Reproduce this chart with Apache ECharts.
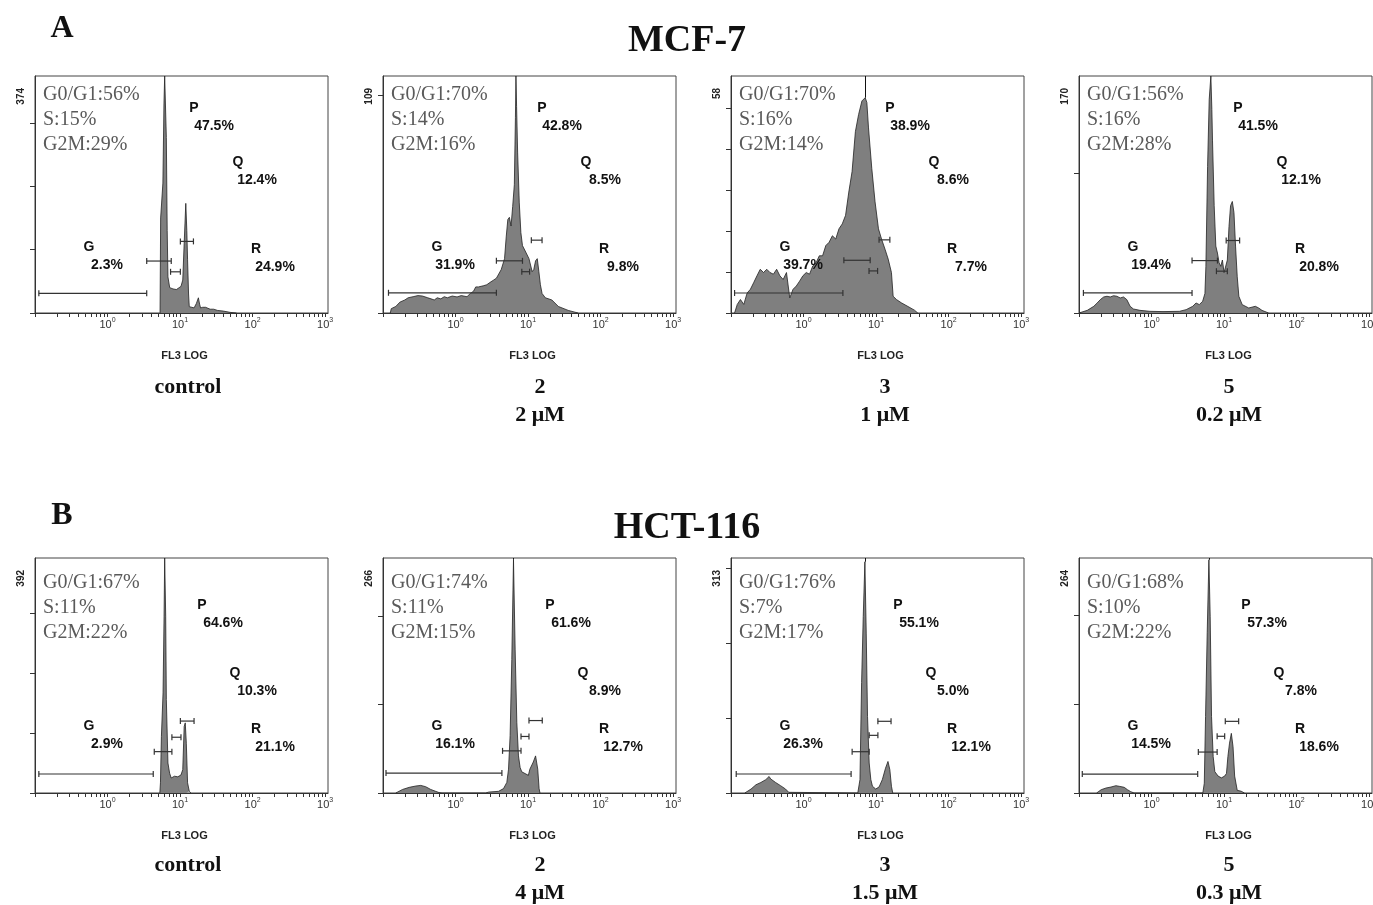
<!DOCTYPE html>
<html lang="en" style="height: 100%">
<head>
    <meta charset="utf-8">
</head>
<body style="height: 100%; margin: 0; background: #fff">
<div id="container" style="width: 1373px; height: 905px"></div>
<script src="https://cdn.jsdelivr.net/npm/echarts@6/dist/echarts.min.js"></script>
<script>
// histograms: [FL3 channel value, cell count]
var mcfControl = [[5.3,0],[5.4,150],[5.8,205],[6.0,330],[6.14,374],[6.3,374],[6.47,277],[6.65,130],[6.81,57],[7.2,40],[7.56,37],[8.0,38],[8.38,39],[8.9,37],[9.3,37],[10.3,42],[10.9,52],[11.4,110],[12.0,173],[12.4,130],[12.7,84],[13.1,30],[13.4,10],[14.5,9],[15.6,8],[16.8,15],[17.9,24],[18.6,14],[19.2,8],[20.5,9],[21.3,12],[22.5,9],[23.6,10],[26,6],[29.1,6],[33,4],[39.7,3],[48.9,1],[60,0]];
var mcf2 = [[0.126,0],[0.13,2],[0.15,3],[0.171,5],[0.2,6],[0.222,7],[0.26,7.5],[0.303,8],[0.35,7.8],[0.414,7],[0.46,6.5],[0.509,6],[0.56,7],[0.627,6.5],[0.7,7.5],[0.771,7],[0.9,7.8],[1.05,7.4],[1.2,8],[1.44,7.5],[1.6,9],[1.77,10],[1.9,12],[2.07,12],[2.41,12.5],[2.7,13],[2.97,14],[3.3,15],[3.66,16],[4.27,20],[4.74,25],[5.0,35],[5.26,43],[5.53,44],[5.83,40],[6.14,49],[6.47,59],[6.7,90],[6.81,109],[6.95,95],[7.18,74],[7.56,51],[7.96,37],[8.38,31],[9.3,28],[10.3,25],[11.4,19],[12.0,20],[12.7,24],[13.4,25],[14.1,19],[14.8,13],[15.6,9],[17.3,7],[21.3,6],[26.2,3],[35.8,1.2],[48.9,0]];
var mcf3 = [[0.112,0],[0.116,0.4],[0.122,2.1],[0.135,3.3],[0.15,2.1],[0.167,4.9],[0.185,5.8],[0.205,7.4],[0.228,9.1],[0.253,10.7],[0.281,9.9],[0.311,10.7],[0.345,9.9],[0.384,9.5],[0.426,10.7],[0.472,9.1],[0.524,8.2],[0.582,9.9],[0.646,3.7],[0.717,5.8],[0.795,6.6],[0.883,7.8],[0.979,9.1],[1.09,9.9],[1.21,9.5],[1.34,11.5],[1.49,12.3],[1.65,14],[1.83,14],[2.03,16.5],[2.25,17.3],[2.5,18.9],[2.78,18.1],[3.08,20.6],[3.42,21.8],[3.8,23.9],[4.21,29.6],[4.67,34.6],[5.19,44.4],[5.75,48.6],[6.39,51.9],[7.09,52.7],[7.47,51.5],[7.87,45.3],[8.73,35.4],[9.69,27.2],[10.8,20.6],[11.9,18.1],[13.3,15.6],[14.7,13.2],[16.3,9.9],[17.2,4.1],[19.1,3.3],[22.3,2.5],[27.5,1.6],[33.8,0.7],[37.6,0]];
var mcf5 = [[0.1,0],[0.105,0.5],[0.13,1.9],[0.16,4.8],[0.178,7.2],[0.197,9.6],[0.219,11.5],[0.243,12],[0.27,11.5],[0.3,12.4],[0.333,12],[0.37,10.8],[0.411,11.5],[0.456,9.6],[0.507,4.8],[0.562,2.9],[0.693,1.9],[0.949,1.2],[1.44,1],[2.43,1.2],[3.0,2.4],[3.7,4.8],[4.11,7.2],[4.56,6],[5.07,8.4],[5.45,14],[5.62,33.5],[5.93,105],[6.24,153],[6.58,170],[6.79,146],[6.93,124],[7.31,77],[7.7,48],[8.11,43],[8.55,36],[9.01,33.5],[9.49,38],[10.0,29],[10.5,29],[11.1,38],[11.7,62],[12.3,77],[13.0,80],[13.7,72],[14.4,48],[15.2,26],[16.0,12],[17.8,6],[21.9,3.6],[27.0,4.8],[30.0,3.6],[33.3,1.9],[41.1,0]];
var hctControl = [[5.26,0],[5.37,17],[5.53,94],[5.83,167],[6.02,295],[6.14,392],[6.34,295],[6.47,156],[6.81,50],[7.18,33],[7.56,25],[8.38,28],[9.3,27],[10.3,30],[10.9,39],[11.4,111],[11.8,117],[12.2,83],[12.7,17],[13.4,3],[14.1,0]];
var hct2 = [[0.15,0],[0.159,1],[0.186,4],[0.23,6.4],[0.283,7.9],[0.332,8.6],[0.388,7.1],[0.455,4],[0.532,1.9],[0.591,0.5],[0.65,0],[2.6,0],[2.86,1],[3.92,1.9],[4.59,5],[5.1,12],[5.38,27],[5.66,65],[5.97,151],[6.3,264],[6.64,162],[7.0,80],[7.38,42],[7.77,29],[8.19,24],[8.63,26],[9.1,22],[9.59,24],[10.1,20],[10.6,27],[11.8,35],[12.7,42],[13.6,27],[14.2,5],[14.6,0]];
var hct3 = [[0.155,0],[0.162,0.9],[0.189,5.3],[0.221,11],[0.258,14],[0.302,17.8],[0.335,22],[0.353,18.7],[0.412,14],[0.482,9.8],[0.564,5.3],[0.626,0.9],[0.659,0],[5.6,0],[5.75,0.9],[6.0,17.8],[6.32,147],[6.66,235],[7.02,308],[7.32,213],[7.63,102],[8.04,40],[8.47,18],[8.92,9],[9.89,5.3],[11.0,8],[12.2,17.8],[13.5,33],[14.6,42],[15.5,31],[16.3,9],[17.0,0]];
var hct5 = [[0.175,0],[0.182,0.7],[0.202,3.7],[0.236,5.6],[0.276,6.7],[0.323,8.2],[0.359,7.5],[0.42,6.4],[0.466,3.7],[0.517,1.5],[0.574,0],[5.1,0],[5.17,0.7],[5.34,11],[5.56,86],[5.86,180],[6.18,262],[6.44,198],[6.72,86],[7.08,41],[7.46,24],[8.28,19],[9.2,17],[10.2,19],[10.8,22],[11.3,41],[11.9,56],[12.6,67],[13.3,52],[14.0,19],[15.2,3],[17.2,2],[19.1,0]];

// gate markers G, P, Q, R: [from, to, level]
var gatesMcfControl = [[0.113,3.47,31],[3.47,7.56,82],[7.4,10.1,65],[10.1,15.3,113]];
var gatesMcf2 = [[0.119,3.66,9.3],[3.66,8.38,24],[8.2,10.5,19],[11.1,15.6,33.5]];
var gatesMcf3 = [[0.112,3.49,4.9],[3.6,8.3,12.9],[8.0,10.5,10.3],[11.0,15.5,17.9]];
var gatesMcf5 = [[0.115,3.62,14.4],[3.62,8.11,37.6],[7.85,11.1,30],[10.7,16.4,52]];
var gatesHctControl = [[0.113,4.27,31.7],[4.41,7.72,69],[7.72,10.3,93],[10.1,15.6,120]];
var gatesHct2 = [[0.11,4.36,22.5],[4.45,8.0,47.7],[8.0,10.3,64],[10.3,15.7,82]];
var gatesHct3 = [[0.118,4.53,25.3],[4.68,8.04,55],[8.04,10.6,76.8],[10.6,16.1,95.5]];
var gatesHct5 = [[0.111,4.33,21.3],[4.42,8.03,46],[8.03,10.2,63.7],[10.4,15.9,80.5]];

// G1 peak cursor: [channel, count at peak]
var peaks = [[6.14,374],[6.81,109],[7.09,52.7],[6.58,170],[6.14,392],[6.3,264],[7.02,308],[6.18,262]];
var yMax = [374, 109, 58, 170, 392, 266, 313, 264];
var yStep = [100, 100, 10, 100, 100, 100, 100, 100];

var cycleText = [
    ['G0/G1:56%', 'S:15%', 'G2M:29%'], ['G0/G1:70%', 'S:14%', 'G2M:16%'],
    ['G0/G1:70%', 'S:16%', 'G2M:14%'], ['G0/G1:56%', 'S:16%', 'G2M:28%'],
    ['G0/G1:67%', 'S:11%', 'G2M:22%'], ['G0/G1:74%', 'S:11%', 'G2M:15%'],
    ['G0/G1:76%', 'S:7%', 'G2M:17%'], ['G0/G1:68%', 'S:10%', 'G2M:22%']
];
var gateNames = ['G', 'P', 'Q', 'R'];
var gatePct = [
    ['2.3%', '47.5%', '12.4%', '24.9%'], ['31.9%', '42.8%', '8.5%', '9.8%'],
    ['39.7%', '38.9%', '8.6%', '7.7%'], ['19.4%', '41.5%', '12.1%', '20.8%'],
    ['2.9%', '64.6%', '10.3%', '21.1%'], ['16.1%', '61.6%', '8.9%', '12.7%'],
    ['26.3%', '55.1%', '5.0%', '12.1%'], ['14.5%', '57.3%', '7.8%', '18.6%']
];
var captions = [
    ['control'], ['2', '2 μM'], ['3', '1 μM'], ['5', '0.2 μM'],
    ['control'], ['2', '4 μM'], ['3', '1.5 μM'], ['5', '0.3 μM']
];
var decadeLabels = [0, 1, 2, 3];

var histos = [mcfControl, mcf2, mcf3, mcf5, hctControl, hct2, hct3, hct5];
var gates = [gatesMcfControl, gatesMcf2, gatesMcf3, gatesMcf5, gatesHctControl, gatesHct2, gatesHct3, gatesHct5];

// layout
var lefts = [35, 383, 731, 1079];
var W = 293;
var rowTop = [76, 558];
var rowH = [237, 235];
var capX = [188, 540, 885, 1229];

var minorTicks = [];
for (var d = -1; d < 3; d++) {
    for (var k = 1; k < 10; k++) minorTicks.push(d + Math.log10(k));
}
minorTicks.push(3);

var dom = document.getElementById('container');
var myChart = echarts.init(dom, null, { renderer: 'canvas' });

var grids = [], xAxes = [], yAxes = [], series = [], graphics = [];
var sans = 'Arial, "Liberation Sans", sans-serif';
var serif = '"Times New Roman", "Liberation Serif", serif';

for (var i = 0; i < 8; i++) {
    var r = i < 4 ? 0 : 1;
    var c = i % 4;
    var gl = lefts[c], gt = rowTop[r];
    grids.push({
        left: gl, top: gt, width: W, height: rowH[r],
        outerBoundsMode: 'none', containLabel: false,
        show: true, borderColor: '#444', borderWidth: 1, backgroundColor: '#fff'
    });
    xAxes.push({
        type: 'value', gridIndex: i, min: -1, max: 3.04,
        axisLine: { onZero: false, lineStyle: { color: '#333', width: 1 } },
        axisTick: { customValues: minorTicks, length: 4, lineStyle: { color: '#333' } },
        splitLine: { show: false },
        axisLabel: {
            customValues: decadeLabels, margin: 4, color: '#333',
            formatter: function (v) { return '{b|10}{s|' + v + '}'; },
            rich: {
                b: { fontSize: 11, lineHeight: 15, fontFamily: sans, color: '#333' },
                s: { fontSize: 7, lineHeight: 7, verticalAlign: 'top', fontFamily: sans, color: '#333' }
            }
        }
    });
    var ticks = [];
    for (var t = 0; t < yMax[i]; t += yStep[i]) ticks.push(t);
    yAxes.push({
        type: 'value', gridIndex: i, min: 0, max: yMax[i],
        axisLine: { show: true, onZero: false, lineStyle: { color: '#333', width: 1 } },
        axisTick: { customValues: ticks, length: 5, lineStyle: { color: '#333' } },
        splitLine: { show: false },
        axisLabel: {
            customValues: [yMax[i]], rotate: 90, align: 'right', verticalAlign: 'bottom',
            padding: [0, 12, 0, 0], margin: 9,
            fontSize: 10, fontWeight: 'bold', color: '#222', fontFamily: sans
        }
    });
    series.push({
        type: 'line', xAxisIndex: i, yAxisIndex: i,
        data: histos[i].map(function (p) { return [Math.log10(p[0]), p[1]]; }),
        showSymbol: false, symbol: 'none', clip: true,
        lineStyle: { color: '#222', width: 0.8 },
        areaStyle: { color: '#7f7f7f', opacity: 1 },
        markLine: {
            silent: true, symbol: 'none', label: { show: false },
            lineStyle: { color: '#111', width: 1, type: 'solid' },
            data: [[
                { coord: [Math.log10(peaks[i][0]), peaks[i][1]] },
                { coord: [Math.log10(peaks[i][0]), yMax[i]] }
            ]]
        },
        z: 2
    });
    series.push({
        type: 'custom', xAxisIndex: i, yAxisIndex: i, z: 5,
        data: gates[i].map(function (g) { return [Math.log10(g[0]), Math.log10(g[1]), g[2]]; }),
        renderItem: function (params, api) {
            var a = api.coord([api.value(0), api.value(2)]);
            var b = api.coord([api.value(1), api.value(2)]);
            var st = { stroke: '#333', lineWidth: 1.2 };
            return {
                type: 'group',
                children: [
                    { type: 'line', shape: { x1: a[0], y1: a[1], x2: b[0], y2: b[1] }, style: st },
                    { type: 'line', shape: { x1: a[0], y1: a[1] - 3, x2: a[0], y2: a[1] + 3 }, style: st },
                    { type: 'line', shape: { x1: b[0], y1: b[1] - 3, x2: b[0], y2: b[1] + 3 }, style: st }
                ]
            };
        }
    });

    // cell cycle summary
    graphics.push({
        type: 'text', x: gl + 8, y: gt + (r ? 12 : 6.5), z: 10,
        style: { text: cycleText[i].join('\n'), font: '20px ' + serif, fill: '#5a5a5a', lineHeight: 25 }
    });
    // gate labels
    var lx = r ? [54, 167, 200, 221] : [54, 159, 203, 221];
    var ly = r ? [168, 47, 115, 171] : [171, 32, 86, 173];
    var px = [72, r ? 188 : 179, 222, 240];
    for (var g = 0; g < 4; g++) {
        graphics.push({
            type: 'text', x: gl + lx[g], y: gt + ly[g], z: 10,
            style: { text: gateNames[g], font: 'bold 14px ' + sans, fill: '#111', textAlign: 'center', textVerticalAlign: 'middle' }
        });
        graphics.push({
            type: 'text', x: gl + px[g], y: gt + ly[g] + 18, z: 10,
            style: { text: gatePct[i][g], font: 'bold 14px ' + sans, fill: '#111', textAlign: 'center', textVerticalAlign: 'middle' }
        });
    }
    // axis name and sample caption
    var axisY = gt + rowH[r];
    graphics.push({
        type: 'text', x: gl + W / 2 + 3, y: axisY + 43, z: 10,
        style: { text: 'FL3 LOG', font: 'bold 11px ' + sans, fill: '#222', textAlign: 'center', textVerticalAlign: 'middle' }
    });
    for (var l = 0; l < captions[i].length; l++) {
        graphics.push({
            type: 'text', x: capX[c], y: (r ? 865 : 387) + l * 28, z: 10,
            style: { text: captions[i][l], font: 'bold 22px ' + serif, fill: '#111', textAlign: 'center', textVerticalAlign: 'middle' }
        });
    }
}

graphics.push(
    { type: 'text', x: 62, y: 29, style: { text: 'A', font: 'bold 32px ' + serif, fill: '#111', textAlign: 'center', textVerticalAlign: 'middle' } },
    { type: 'text', x: 687, y: 41, style: { text: 'MCF-7', font: 'bold 38px ' + serif, fill: '#111', textAlign: 'center', textVerticalAlign: 'middle' } },
    { type: 'text', x: 62, y: 516, style: { text: 'B', font: 'bold 32px ' + serif, fill: '#111', textAlign: 'center', textVerticalAlign: 'middle' } },
    { type: 'text', x: 687, y: 528, style: { text: 'HCT-116', font: 'bold 38px ' + serif, fill: '#111', textAlign: 'center', textVerticalAlign: 'middle' } }
);

var option = {
    animation: false,
    backgroundColor: '#fff',
    grid: grids,
    xAxis: xAxes,
    yAxis: yAxes,
    series: series,
    graphic: graphics
};
myChart.setOption(option);
window.addEventListener('resize', myChart.resize);
</script>
</body>
</html>
